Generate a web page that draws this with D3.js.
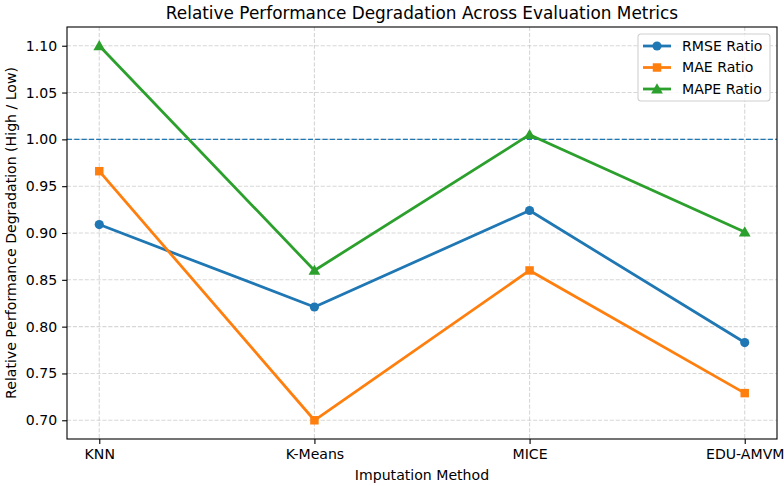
<!DOCTYPE html>
<html>
<head>
<meta charset="utf-8">
<script src="https://cdn.jsdelivr.net/npm/d3@7"></script>
<style>
  body { margin: 0; background: #fff; }
  svg { font-family: "DejaVu Sans", sans-serif; }
</style>
</head>
<body>
<div id="chart"></div>
<script>
  // data
  const methods = ['KNN', 'K-Means', 'MICE', 'EDU-AMVM'];
  const rmseRatio = [0.909, 0.821, 0.924, 0.783];
  const maeRatio = [0.966, 0.700, 0.860, 0.729];
  const mapeRatio = [1.100, 0.860, 1.005, 0.901];
  const yTicks = [0.70, 0.75, 0.80, 0.85, 0.90, 0.95, 1.00, 1.05, 1.10];

  const series = [
    { name: 'RMSE Ratio', values: rmseRatio, color: '#1f77b4', marker: 'circle' },
    { name: 'MAE Ratio', values: maeRatio, color: '#ff7f0e', marker: 'square' },
    { name: 'MAPE Ratio', values: mapeRatio, color: '#2ca02c', marker: 'triangle' }
  ];

  const W = 784, H = 486;
  const margin = { left: 67, right: 7, top: 27, bottom: 47 };
  const iw = W - margin.left - margin.right;
  const ih = H - margin.top - margin.bottom;
  const fs = '14.1px';

  const svg = d3.select('#chart').append('svg')
    .attr('width', W).attr('height', H);

  const g = svg.append('g')
    .attr('transform', 'translate(' + margin.left + ',' + margin.top + ')');

  const x = d3.scaleLinear().domain([-0.15, methods.length - 1 + 0.15]).range([0, iw]);
  const y = d3.scaleLinear().domain([0.68, 1.12]).range([ih, 0]);

  let markerOf = function (s) {
    if (s.marker === 'circle') return d3.symbol().type(d3.symbolCircle).size(66);
    if (s.marker === 'square') return d3.symbol().type(d3.symbolSquare).size(72);
    return d3.symbol().type(d3.symbolTriangle).size(60);
  };

  // grid
  g.append('g').selectAll('line').data(yTicks).join('line')
    .attr('x1', 0).attr('x2', iw)
    .attr('y1', d => y(d)).attr('y2', d => y(d))
    .attr('stroke', '#b0b0b0').attr('stroke-opacity', 0.5)
    .attr('stroke-width', 1.1).attr('stroke-dasharray', '4.1,1.8');

  g.append('g').selectAll('line').data(methods).join('line')
    .attr('x1', (d, i) => x(i)).attr('x2', (d, i) => x(i))
    .attr('y1', 0).attr('y2', ih)
    .attr('stroke', '#b0b0b0').attr('stroke-opacity', 0.5)
    .attr('stroke-width', 1.1).attr('stroke-dasharray', '4.1,1.8');

  // reference line at 1.0
  g.append('line')
    .attr('x1', 0).attr('x2', iw)
    .attr('y1', y(1)).attr('y2', y(1))
    .attr('stroke', '#1f77b4').attr('stroke-width', 1.4)
    .attr('stroke-dasharray', '5.1,2.2');

  // axes
  const yAxis = d3.axisLeft(y).tickValues(yTicks).tickFormat(d3.format('.2f'))
    .tickSize(4.9).tickPadding(4.9);
  const xAxis = d3.axisBottom(x).tickValues(d3.range(methods.length))
    .tickFormat(i => methods[i]).tickSize(4.9).tickPadding(4.9);

  const ya = g.append('g').call(yAxis);
  const xa = g.append('g').attr('transform', 'translate(0,' + ih + ')').call(xAxis);
  [ya, xa].forEach(a => {
    a.select('.domain').remove();
    a.selectAll('line').attr('stroke', '#000').attr('stroke-width', 1.1);
    a.selectAll('text').attr('fill', '#000').style('font-size', fs)
      .style('font-family', '"DejaVu Sans", sans-serif');
  });

  // lines and markers
  const line = d3.line().x((d, i) => x(i)).y(d => y(d));

  series.forEach(s => {
    g.append('path').datum(s.values)
      .attr('d', line)
      .attr('fill', 'none').attr('stroke', s.color)
      .attr('stroke-width', 2.78).attr('stroke-linejoin', 'round');

    g.append('g').selectAll('path').data(s.values).join('path')
      .attr('transform', (d, i) => 'translate(' + x(i) + ',' + (y(d) + (s.marker === 'triangle' ? 1 : 0)) + ')')
      .attr('d', markerOf(s))
      .attr('fill', s.color);
  });

  // frame
  g.append('rect').attr('width', iw).attr('height', ih)
    .attr('fill', 'none').attr('stroke', '#000').attr('stroke-width', 1.1);

  // legend
  const lg = g.append('g').attr('transform', 'translate(' + (iw - 139) + ',7)');
  lg.append('rect')
    .attr('width', 132).attr('height', 67).attr('rx', 3)
    .attr('fill', '#fff').attr('fill-opacity', 0.8)
    .attr('stroke', '#d0d0d0').attr('stroke-width', 1.1);

  series.forEach((s, i) => {
    const row = lg.append('g').attr('transform', 'translate(0,' + (12 + i * 21.5) + ')');
    row.append('line').attr('x1', 5).attr('x2', 33).attr('y1', 0).attr('y2', 0)
      .attr('stroke', s.color).attr('stroke-width', 2.78);
    row.append('path').attr('transform', 'translate(19,' + (s.marker === 'triangle' ? 1 : 0) + ')')
      .attr('d', markerOf(s)).attr('fill', s.color);
    row.append('text').attr('x', 44).attr('y', 0).attr('dy', '0.35em')
      .style('font-size', fs).attr('fill', '#000').text(s.name);
  });

  // title and axis labels
  svg.append('text')
    .attr('x', margin.left + iw / 2).attr('y', 19)
    .attr('text-anchor', 'middle').style('font-size', '16.9px')
    .text('Relative Performance Degradation Across Evaluation Metrics');

  svg.append('text')
    .attr('x', margin.left + iw / 2).attr('y', 480)
    .attr('text-anchor', 'middle').style('font-size', fs)
    .text('Imputation Method');

  svg.append('text')
    .attr('transform', 'translate(16,' + (margin.top + ih / 2) + ') rotate(-90)')
    .attr('text-anchor', 'middle').style('font-size', fs)
    .text('Relative Performance Degradation (High / Low)');
</script>
</body>
</html>
